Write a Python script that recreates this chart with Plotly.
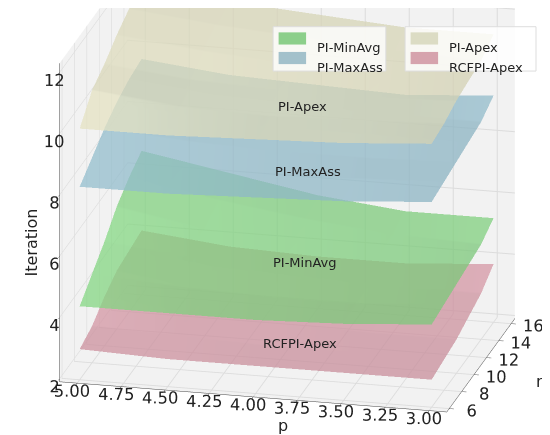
import plotly.graph_objects as go

# grid of the surfaces
p_values = [3.0, 3.5, 4.0, 4.5, 5.0]
n_values = [6, 8, 10, 12, 14, 16]

# iteration counts, one row per n, one column per p
rcfpi_apex = [
    [2.8, 2.8, 2.8, 2.8, 2.9],
    [2.9, 2.9, 2.9, 3.0, 3.1],
    [3.0, 3.0, 3.1, 3.2, 3.5],
    [3.2, 3.2, 3.3, 3.4, 3.8],
    [3.4, 3.4, 3.5, 3.6, 3.9],
    [3.8, 3.6, 3.6, 3.7, 4.0],
]
pi_minavg = [
    [4.6, 4.4, 4.3, 4.3, 4.3],
    [4.7, 4.5, 4.5, 4.6, 4.8],
    [4.8, 4.7, 4.8, 5.0, 5.3],
    [4.9, 4.9, 5.1, 5.4, 5.9],
    [5.0, 5.1, 5.4, 5.8, 6.3],
    [5.3, 5.3, 5.6, 6.1, 6.6],
]
pi_maxass = [
    [8.6, 8.4, 8.3, 8.2, 8.2],
    [8.7, 8.6, 8.5, 8.5, 8.6],
    [8.8, 8.7, 8.7, 8.8, 9.0],
    [8.9, 8.9, 8.9, 9.0, 9.3],
    [9.0, 9.0, 9.1, 9.2, 9.5],
    [9.3, 9.1, 9.2, 9.3, 9.6],
]
pi_apex = [
    [10.5, 10.3, 10.2, 10.1, 10.1],
    [10.6, 10.5, 10.4, 10.5, 10.8],
    [10.8, 10.7, 10.7, 10.8, 11.1],
    [10.9, 10.9, 11.0, 11.2, 11.5],
    [11.0, 11.1, 11.3, 11.5, 11.8],
    [11.3, 11.3, 11.5, 11.7, 12.0],
]

series = [
    ("RCFPI-Apex", rcfpi_apex, "#d99aa8"),
    ("PI-MinAvg", pi_minavg, "#86d884"),
    ("PI-MaxAss", pi_maxass, "#97c2d2"),
    ("PI-Apex", pi_apex, "#e4e2c2"),
]

p_ticks = [3.0, 3.25, 3.5, 3.75, 4.0, 4.25, 4.5, 4.75, 5.0]
n_ticks = [6, 8, 10, 12, 14, 16]
z_ticks = [2, 4, 6, 8, 10, 12]

FONT = "DejaVu Sans"

fig = go.Figure()
for name, z, color in series:
    fig.add_trace(
        go.Surface(
            x=p_values,
            y=n_values,
            z=z,
            colorscale=[[0, color], [1, color]],
            showscale=False,
            opacity=0.75,
            name=name,
            lighting=dict(ambient=0.8, diffuse=0.35, specular=0.0, roughness=1.0, fresnel=0.0),
            lightposition=dict(x=-1000, y=-1000, z=3000),
            hoverinfo="skip",
        )
    )

axis_common = dict(
    showbackground=True,
    backgroundcolor="#f2f2f2",
    gridcolor="#dcdcdc",
    showline=True,
    linecolor="#444444",
    zeroline=False,
    ticks="outside",
    tickangle=0,
    tickfont=dict(family=FONT, size=14, color="#222222"),
    showspikes=False,
    title=dict(text=""),
)

fig.update_layout(
    width=550,
    height=435,
    margin=dict(l=0, r=0, t=0, b=0),
    paper_bgcolor="white",
    showlegend=False,
    font=dict(family=FONT, color="#222222"),
    scene=dict(
        xaxis=dict(tickvals=p_ticks, tickformat=".2f", range=[5.1, 2.9], **axis_common),
        yaxis=dict(tickvals=n_ticks, range=[5.6, 16.6], **axis_common),
        zaxis=dict(tickvals=z_ticks, range=[1.9, 12.3], **axis_common),
        aspectmode="manual",
        aspectratio=dict(x=1.83, y=1.35, z=1.55),
        camera=dict(
            eye=dict(x=0.65, y=-2.81, z=0.83),
            center=dict(x=-0.02, y=0, z=-0.17),
            projection=dict(type="orthographic"),
        ),
        domain=dict(x=[0, 1], y=[0, 1]),
    ),
)

# axis titles
axis_titles = [
    ("p", 0.5, 0.014, 0),
    ("n", 0.982, 0.115, 0),
    ("Iteration", 0.022, 0.46, -90),
]
for text, x, y, angle in axis_titles:
    fig.add_annotation(
        text=text, x=x, y=y, xref="paper", yref="paper", textangle=angle,
        showarrow=False, font=dict(family=FONT, size=16, color="#222222"),
    )

# labels written on the surfaces
labels = [
    ("PI-Apex", 0.535, 0.795),
    ("PI-MaxAss", 0.545, 0.625),
    ("PI-MinAvg", 0.54, 0.415),
    ("RCFPI-Apex", 0.53, 0.208),
]
for text, x, y in labels:
    fig.add_annotation(
        text=text, x=x, y=y, xref="paper", yref="paper",
        showarrow=False, font=dict(family=FONT, size=13, color="#222222"),
    )

# two legend boxes, two entries each
legend_boxes = [
    (0.482, 0.687, [("PI-MinAvg", "#8ccf8a"), ("PI-MaxAss", "#a3c1cb")]),
    (0.722, 0.96, [("PI-Apex", "#dcdcc4"), ("RCFPI-Apex", "#d6a3ad")]),
]
row_y = [0.93, 0.885]
for x0, x1, entries in legend_boxes:
    fig.add_shape(
        type="rect", xref="paper", yref="paper",
        x0=x0, x1=x1, y0=0.855, y1=0.957,
        line=dict(color="#dddddd", width=1), fillcolor="rgba(255,255,255,0.8)",
    )
    for (text, color), y in zip(entries, row_y):
        fig.add_shape(
            type="rect", xref="paper", yref="paper",
            x0=x0 + 0.01, x1=x0 + 0.06, y0=y - 0.014, y1=y + 0.014,
            line=dict(width=0), fillcolor=color,
        )
        fig.add_annotation(
            text=text, x=x0 + 0.077, y=y, xref="paper", yref="paper",
            xanchor="left", showarrow=False,
            font=dict(family=FONT, size=13, color="#222222"),
        )

fig.write_html("out.html")
